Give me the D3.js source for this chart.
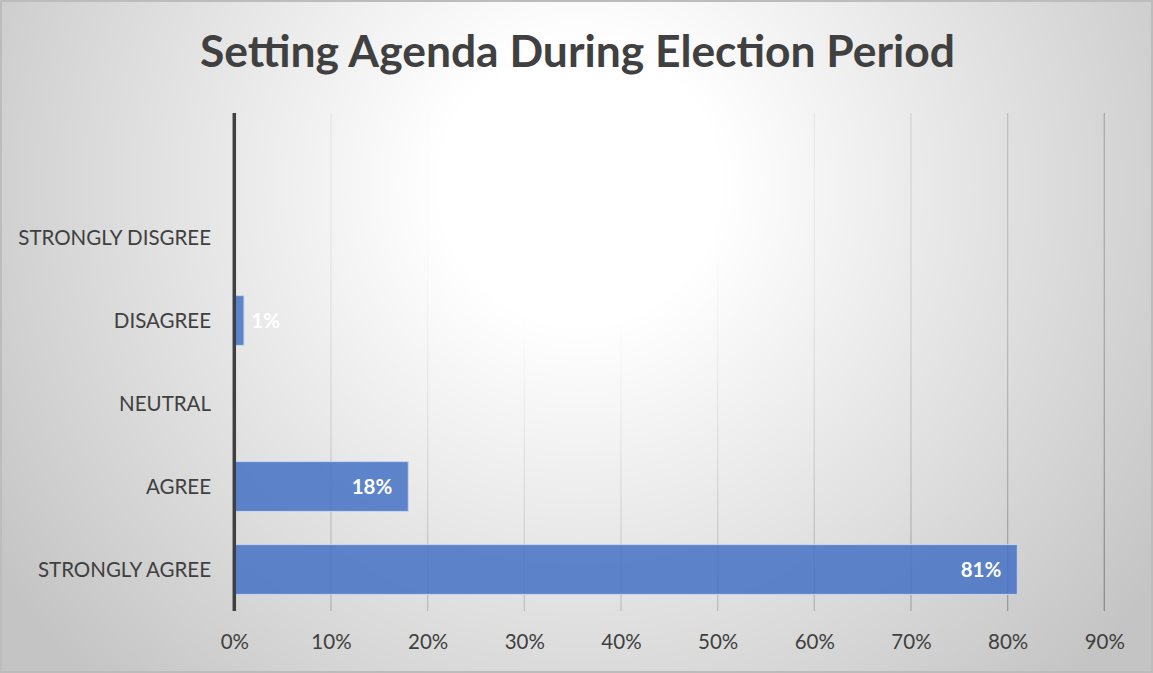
<!DOCTYPE html>
<html>
<head>
<meta charset="utf-8">
<script src="https://cdn.jsdelivr.net/npm/d3@7"></script>
<style>
  html, body { margin: 0; padding: 0; background: #fff; }
  svg { display: block; }
  text { font-family: Lato, "Open Sans", sans-serif; }
</style>
</head>
<body>
<svg id="chart" width="1153" height="673"></svg>
<script>
// Survey responses, top to bottom
const categories = ["STRONGLY DISGREE", "DISAGREE", "NEUTRAL", "AGREE", "STRONGLY AGREE"];
const percentages = [0, 1, 0, 18, 81];
const xTicks = [0, 10, 20, 30, 40, 50, 60, 70, 80, 90];
const titleText = "Setting Agenda During Election Period";

const W = 1153, H = 673;
const plot = { left: 234.3, right: 1104.3, top: 113, bottom: 611 };

const svg = d3.select("#chart");
const defs = svg.append("defs");

// soft white glow over a grey card
const glow = defs.append("radialGradient")
  .attr("id", "glow")
  .attr("gradientUnits", "userSpaceOnUse")
  .attr("cx", 580).attr("cy", 185).attr("r", 700);
glow.append("stop").attr("offset", 0).attr("stop-color", "#fff").attr("stop-opacity", 1);
glow.append("stop").attr("offset", 0.2).attr("stop-color", "#fff").attr("stop-opacity", 1);
glow.append("stop").attr("offset", 1).attr("stop-color", "#fff").attr("stop-opacity", 0);

svg.append("rect").attr("width", W).attr("height", H).attr("fill", "#c4c4c4");

const x = d3.scaleLinear().domain([0, 90]).range([plot.left, plot.right]);
// one empty slot is kept above the first category
const step = (plot.bottom - plot.top) / (categories.length + 1);
const y = d3.scaleBand().domain(categories)
  .range([plot.top + step, plot.bottom]).paddingInner(0.4).paddingOuter(0.2);

// vertical gridlines
const grid = svg.append("g").attr("class", "grid");
grid.selectAll("line").data(xTicks.filter(t => t > 0)).join("line")
  .attr("x1", d => x(d)).attr("x2", d => x(d))
  .attr("y1", plot.top).attr("y2", plot.bottom)
  .attr("stroke", "#858585").attr("stroke-width", 1.3);

svg.append("rect").attr("width", W).attr("height", H).attr("fill", "url(#glow)");

// card frame
svg.append("rect").attr("x", 1).attr("y", 1).attr("width", W - 2).attr("height", H - 2)
  .attr("fill", "none").attr("stroke", "#bcbcbc").attr("stroke-width", 2);

// bars
svg.append("g").selectAll("rect")
  .data(categories.map((c, i) => ({ c, v: percentages[i] })).filter(d => d.v > 0))
  .join("rect")
  .attr("x", x(0))
  .attr("y", d => y(d.c))
  .attr("width", d => x(d.v) - x(0))
  .attr("height", y.bandwidth())
  .attr("fill", "#4472C4").attr("fill-opacity", 0.85)
  .attr("stroke", "#c9d6ee").attr("stroke-width", 1);

// value axis line at 0
svg.append("line")
  .attr("x1", x(0)).attr("x2", x(0))
  .attr("y1", plot.top).attr("y2", plot.bottom)
  .attr("stroke", "#404040").attr("stroke-width", 3.5);

// bottom axis labels
const xAxis = d3.axisBottom(x).tickValues(xTicks).tickFormat(d => d + "%").tickSize(0).tickPadding(0);
const gx = svg.append("g").attr("transform", `translate(0,${plot.bottom})`).call(xAxis);
gx.select(".domain").remove();
gx.selectAll("text")
  .attr("y", 31).attr("dy", "0.35em")
  .attr("fill", "#404040").style("font-size", "20.5px").style("font-family", "Lato, 'Open Sans', sans-serif");

// category labels
const yAxis = d3.axisLeft(y).tickSize(0).tickPadding(0);
const gy = svg.append("g").attr("transform", `translate(211,0)`).call(yAxis);
gy.select(".domain").remove();
gy.selectAll("text")
  .attr("x", 0).attr("dy", "0.35em")
  .attr("fill", "#404040").style("font-size", "20.5px").style("font-family", "Lato, 'Open Sans', sans-serif");

// value labels, inside end of each bar
const pad = 16;
svg.append("g").selectAll("text")
  .data(categories.map((c, i) => ({ c, v: percentages[i] })).filter(d => d.v > 0))
  .join("text")
  .text(d => d.v + "%")
  .attr("y", d => y(d.c) + y.bandwidth() / 2)
  .attr("dy", "0.35em")
  .attr("fill", "#fff").style("font-size", "20.5px").style("font-weight", "bold")
  .each(function (d) {
    const t = d3.select(this);
    const w = this.getComputedTextLength();
    const end = x(d.v) - pad;
    if (end - w < x(0) + pad + 1) {
      t.attr("x", x(0) + pad + 1).attr("text-anchor", "start");
    } else {
      t.attr("x", end).attr("text-anchor", "end");
    }
  });

// title
const title = svg.append("text")
  .attr("x", 577.5).attr("y", 52).attr("dy", "0.35em")
  .attr("text-anchor", "middle")
  .attr("fill", "#404040")
  .style("font-size", "44px").style("font-weight", "bold")
  .text(titleText);
title.attr("textLength", 755).attr("lengthAdjust", "spacingAndGlyphs");
</script>
</body>
</html>
